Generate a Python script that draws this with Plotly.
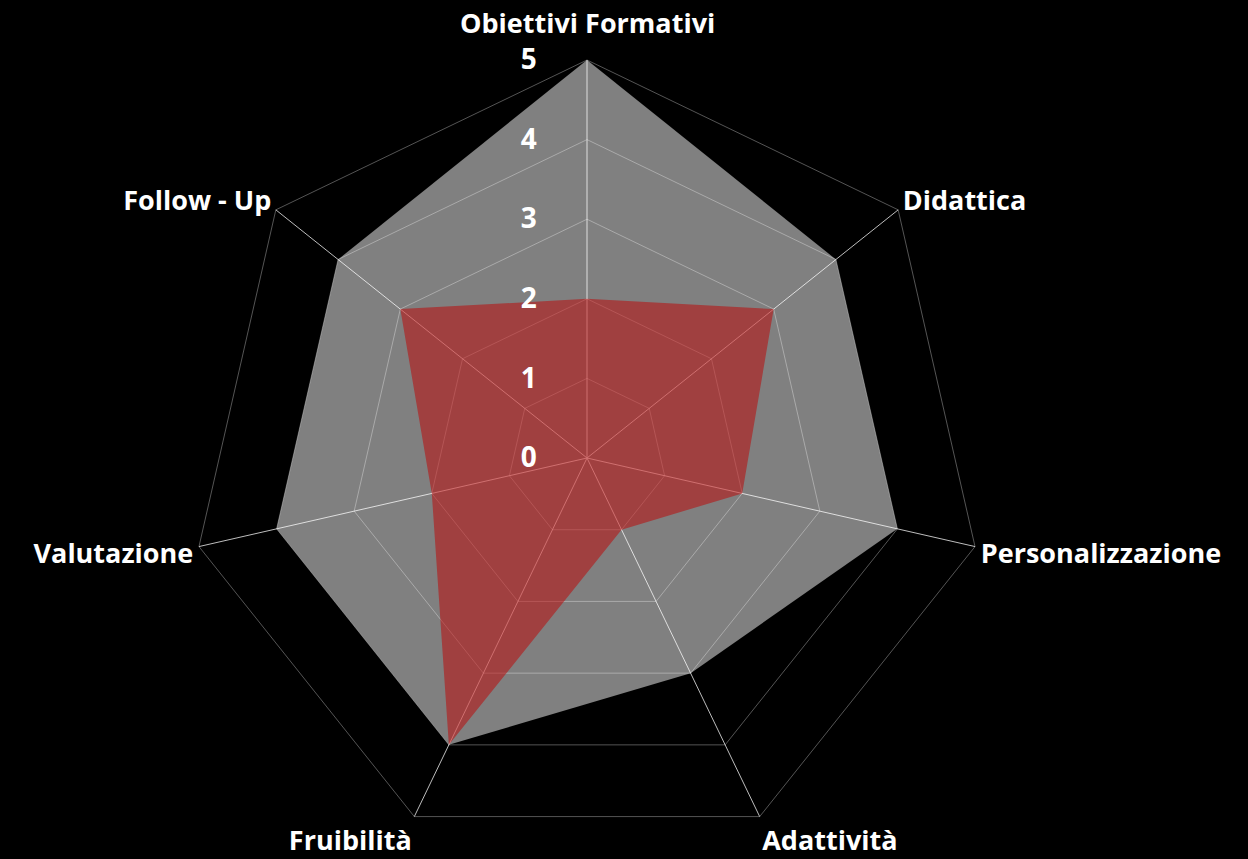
import plotly.graph_objects as go


# ==========================================================
# DATA
# ==========================================================

CATEGORIES = [
    "Obiettivi Formativi",
    "Didattica",
    "Personalizzazione",
    "Adattività",
    "Fruibilità",
    "Valutazione",
    "Follow - Up",
]

TARGET = [5, 4, 4, 3, 4, 4, 4]

ACTUAL = [2, 3, 2, 1, 4, 2, 3]

TICKS = [0, 1, 2, 3, 4, 5]


# ==========================================================
# THEME
# ==========================================================

BACKGROUND = "#000000"

FONT = "white"

FAMILY = "Open Sans"

GRID = "rgba(255,255,255,0.33)"

SPOKE = "#bdbdbd"

LABEL_FONT = dict(size=27, color=FONT, family=FAMILY, weight=700)


# ==========================================================
# FIGURE
# ==========================================================

fig = go.Figure()

fig.add_trace(
    go.Scatterpolar(
        r=TARGET,
        theta=CATEGORIES,
        mode="none",
        fill="toself",
        fillcolor="rgba(255,255,255,0.5)",
        name="Target",
    )
)

fig.add_trace(
    go.Scatterpolar(
        r=ACTUAL,
        theta=CATEGORIES,
        mode="none",
        fill="toself",
        fillcolor="rgba(192,0,0,0.5)",
        name="Attuale",
    )
)

# the top label sits higher than plotly would put it -> annotation
labels = [""] + CATEGORIES[1:]

fig.add_annotation(
    text=CATEGORIES[0],
    xref="paper",
    yref="paper",
    x=0.5,
    y=1.0477,
    xanchor="center",
    yanchor="middle",
    showarrow=False,
    font=LABEL_FONT,
)

fig.update_layout(
    width=1248,
    height=859,
    paper_bgcolor=BACKGROUND,
    plot_bgcolor=BACKGROUND,
    showlegend=False,
    margin=dict(l=0, r=74, t=60, b=3),
    font=dict(color=FONT, family=FAMILY),
    polar=dict(
        bgcolor=BACKGROUND,
        gridshape="linear",
        radialaxis=dict(
            range=[0, 5],
            tickvals=TICKS,
            angle=90,
            side="counterclockwise",
            tickangle=90,
            showline=False,
            gridcolor=GRID,
            gridwidth=1,
            ticks="outside",
            ticklen=40,
            tickcolor="rgba(0,0,0,0)",
            tickfont=dict(size=28, color=FONT, family=FAMILY, weight=700),
            layer="above traces",
        ),
        angularaxis=dict(
            direction="clockwise",
            rotation=90,
            tickmode="array",
            tickvals=CATEGORIES,
            ticktext=labels,
            showline=True,
            linecolor=GRID,
            linewidth=1,
            gridcolor=SPOKE,
            gridwidth=1,
            ticks="",
            tickfont=LABEL_FONT,
            layer="above traces",
        ),
    ),
)

fig.write_html(
    "out.html",
    config={"displayModeBar": False},
    post_script="document.body.style.margin='0';document.body.style.background='#000';",
)
